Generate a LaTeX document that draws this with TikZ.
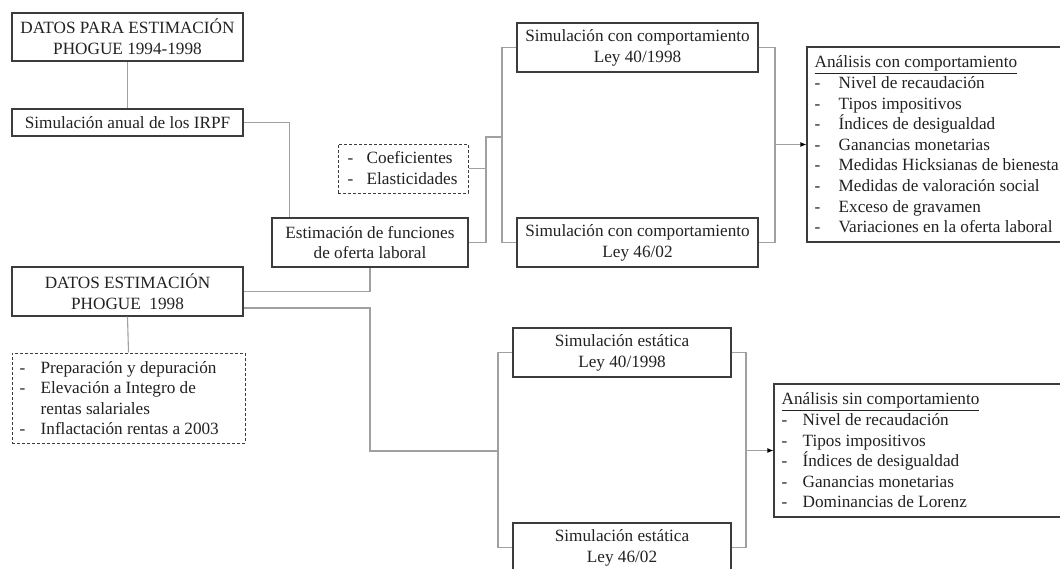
\documentclass[tikz,border=0pt]{standalone}
\usepackage{fontspec}
\setmainfont{Liberation Serif}
\usetikzlibrary{arrows.meta}
\definecolor{boxc}{HTML}{3C3C3C}
\definecolor{linec}{HTML}{A0A0A0}
\definecolor{txtc}{HTML}{222222}
\newcommand{\dsh}[1]{\makebox[#1][l]{-}}
\tikzset{
  box/.style={draw=boxc, line width=1.1pt, inner sep=0pt, align=center, text=txtc,
    font=\fontsize{17.2}{20.8}\selectfont},
  dbox/.style={draw=boxc, line width=1pt, dash pattern=on 3pt off 2pt, inner sep=0pt},
  ltxt/.style={anchor=west, inner sep=0pt, align=left, text=txtc,
    font=\fontsize{17.2}{20.6}\selectfont},
  conn/.style={draw=linec, line width=1.1pt},
  arr/.style={conn, -{Latex[length=6pt,width=5pt,color=black]}},
}
\begin{document}
\begin{tikzpicture}[x=1pt,y=-1pt]
\useasboundingbox (0,0) rectangle (1060,568);
\clip (0,0) rectangle (1060,568);
\fill[white] (0,0) rectangle (1060,568);

% left column
\node[box, minimum width=231pt, minimum height=48pt] (d1) at (127.5,37) {DATOS PARA ESTIMACIÓN\\PHOGUE 1994-1998};
\node[box, minimum width=231pt, minimum height=27pt] (irpf) at (127.5,122.5) {Simulación anual de los IRPF};
\node[box, minimum width=231pt, minimum height=49pt] (d2) at (127.5,291.5) {DATOS ESTIMACIÓN\\PHOGUE\ \ 1998};
\node[dbox, minimum width=233pt, minimum height=90pt] (prep) at (128.5,398) {};
\node[ltxt] (prept) at ([xshift=8pt]prep.west) {\dsh{21pt}Preparación y depuración\\\dsh{21pt}Elevación a Integro de\\\hspace*{21pt}rentas salariales\\\dsh{21pt}Inflactación rentas a 2003};

% middle
\node[dbox, minimum width=130pt, minimum height=49pt] (coef) at (403,168.5) {};
\node[ltxt, font=\fontsize{17.2}{21}\selectfont] (coeft) at ([xshift=10pt]coef.west) {\dsh{19pt}Coeficientes\\\dsh{19pt}Elasticidades};
\node[box, minimum width=196pt, minimum height=49pt] (est) at (370,242.5) {Estimación de funciones\\de oferta laboral};

% simulations
\node[box, minimum width=241pt, minimum height=49pt] (s1) at (637.5,47.5) {Simulación con comportamiento\\Ley 40/1998};
\node[box, minimum width=241pt, minimum height=49pt] (s2) at (637.5,242.5) {Simulación con comportamiento\\Ley 46/02};
\node[box, minimum width=218pt, minimum height=49pt] (e1) at (622,352.5) {Simulación estática\\Ley 40/1998};
\node[box, minimum width=218pt, minimum height=49pt] (e2) at (622,547.5) {Simulación estática\\Ley 46/02};

% analysis boxes
\node[box, minimum width=258pt, minimum height=195pt] (acon) at (936,144.5) {};
\node[ltxt] (acont) at ([xshift=8pt]acon.west) {\underline{Análisis con comportamiento}\\
\dsh{24pt}Nivel de recaudación\\
\dsh{24pt}Tipos impositivos\\
\dsh{24pt}Índices de desigualdad\\
\dsh{24pt}Ganancias monetarias\\
\dsh{24pt}Medidas Hicksianas de bienesta\\
\dsh{24pt}Medidas de valoración social\\
\dsh{24pt}Exceso de gravamen\\
\dsh{24pt}Variaciones en la oferta laboral};
\node[box, minimum width=291pt, minimum height=133pt] (asin) at (919.5,450.5) {};
\node[ltxt] (asint) at ([xshift=8pt]asin.west) {\underline{Análisis sin comportamiento}\\
\dsh{21pt}Nivel de recaudación\\
\dsh{21pt}Tipos impositivos\\
\dsh{21pt}Índices de desigualdad\\
\dsh{21pt}Ganancias monetarias\\
\dsh{21pt}Dominancias de Lorenz};

% junction coordinates
\coordinate (j1) at (486,137);
\coordinate (j2) at (502,137);
\coordinate (j3) at (775,144.5);
\coordinate (j4) at (498,451);
\coordinate (j5) at (746,450.5);
\coordinate (k1) at (370,308);

% connectors
\draw[conn] (d1.south) -- (irpf.north);
\draw[conn] (irpf.east) -| ([xshift=18pt]est.north west);
\draw[conn] (coef.east) -- (coef.east -| j1);
\draw[conn] (est.east) -| (j1) -- (j2);
\draw[conn] (s1.west) -- (s1.west -| j2) -- (s2.west -| j2) -- (s2.west);
\draw[conn] (s1.east) -- (s1.east -| j3) -- (s2.east -| j3) -- (s2.east);
\draw[arr] (j3) -- (acon.west);
\draw[conn] (est.south) |- (d2.east);
\draw[conn] ([yshift=-16.5pt]d2.east) -- (k1) |- (j4);
\draw[conn] (e1.west) -- (e1.west -| j4) -- (e2.west -| j4) -- (e2.west);
\draw[conn] (e1.east) -- (e1.east -| j5) -- (e2.east -| j5) -- (e2.east);
\draw[arr] (j5) -- (asin.west);
\draw[conn] (d2.south) -- (prep.north);
\end{tikzpicture}
\end{document}
